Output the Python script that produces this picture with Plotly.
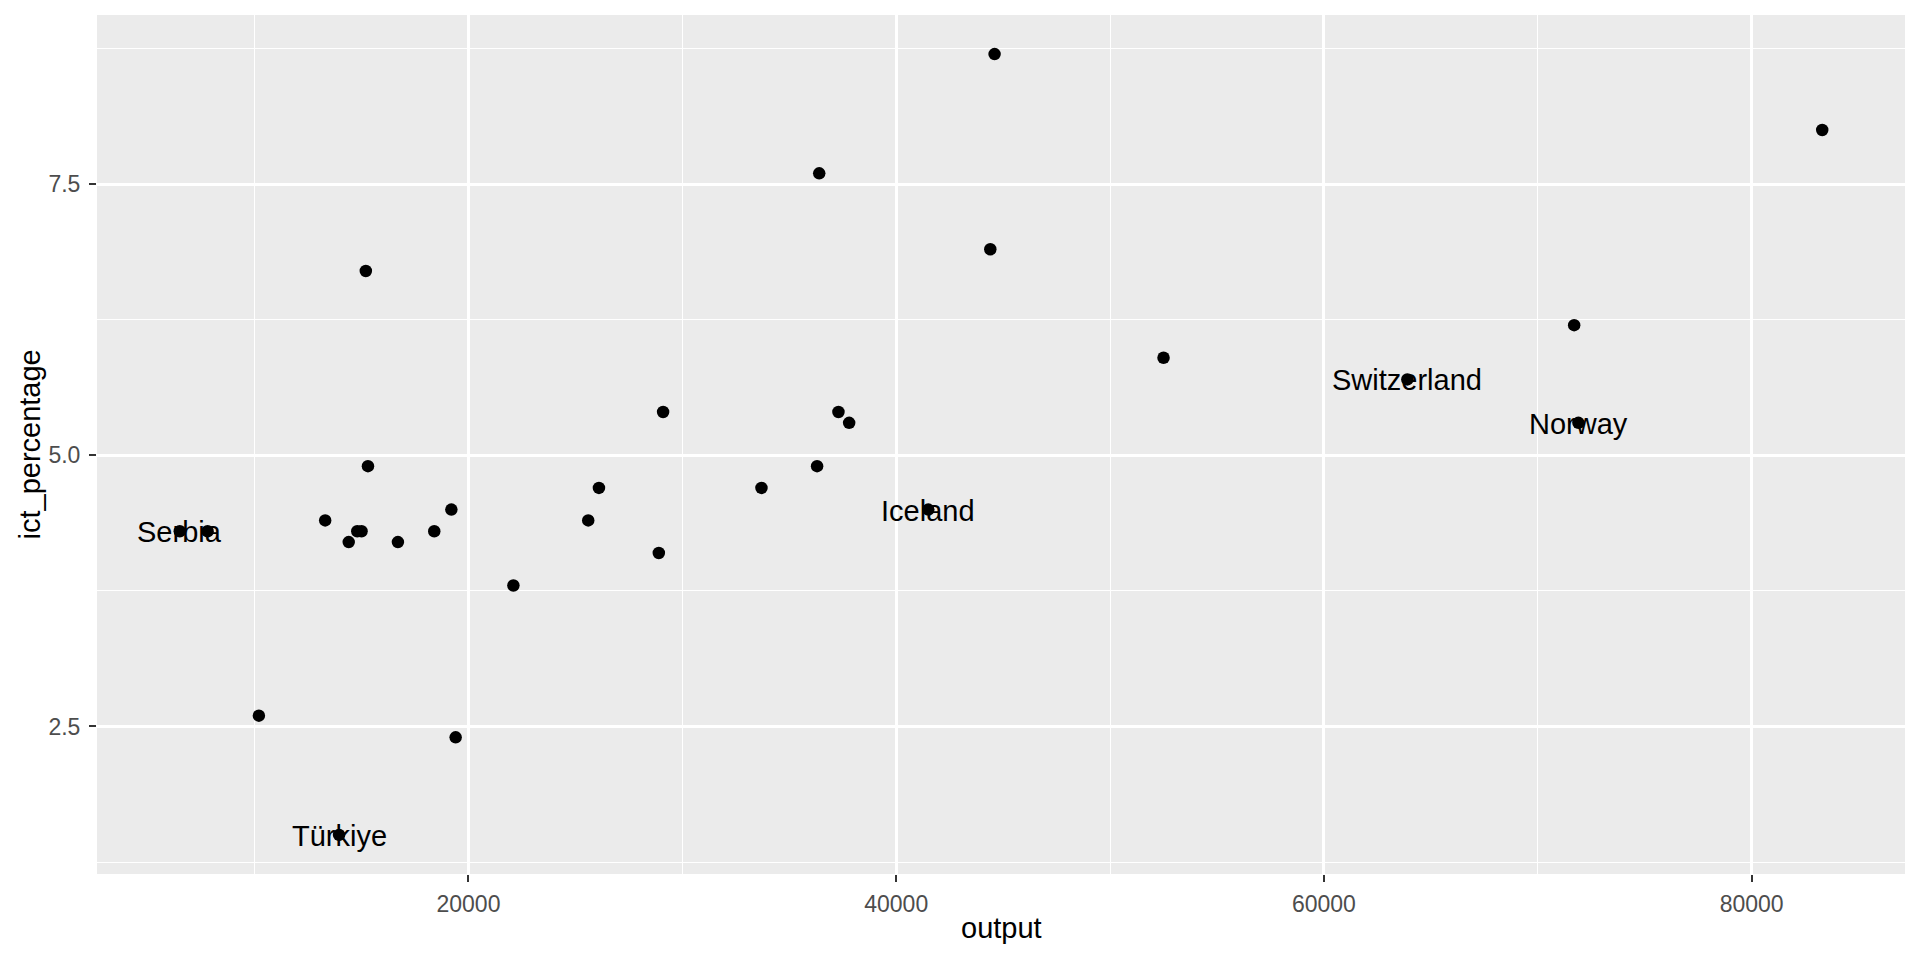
import plotly.graph_objects as go

# Data
output = [6500, 7800, 10200, 13300, 13950, 14400, 14800, 15000, 15200, 15300,
          16700, 18400, 19200, 19400, 22100, 25600, 26100, 28900, 29100, 33700,
          36300, 36400, 37300, 37800, 41500, 44400, 44600, 52500, 63900, 71700,
          71900, 83300]
ict_percentage = [4.3, 4.3, 2.6, 4.4, 1.5, 4.2, 4.3, 4.3, 6.7, 4.9,
                  4.2, 4.3, 4.5, 2.4, 3.8, 4.4, 4.7, 4.1, 5.4, 4.7,
                  4.9, 7.6, 5.4, 5.3, 4.5, 6.9, 8.7, 5.9, 5.7, 6.2,
                  5.3, 8.0]
labels = ["Serbia", "", "", "", "Türkiye", "", "", "", "", "",
          "", "", "", "", "", "", "", "", "", "",
          "", "", "", "", "Iceland", "", "", "", "Switzerland", "",
          "Norway", ""]

x_ticks = [20000, 40000, 60000, 80000]
x_tick_text = ["20000", "40000", "60000", "80000"]
y_ticks = [2.5, 5.0, 7.5]
y_tick_text = ["2.5", "5.0", "7.5"]

FONT = "Liberation Sans, Arial, Helvetica, sans-serif"

fig = go.Figure()
fig.add_trace(go.Scatter(
    x=output, y=ict_percentage, mode="markers",
    marker=dict(color="black", size=12.5, line=dict(width=0)),
    showlegend=False, hoverinfo="x+y"))

# country labels centred on their points (data coordinates)
label_annotations = [
    dict(x=x, y=y, xref="x", yref="y", text=l, showarrow=False,
         xanchor="center", yanchor="middle", yshift=-1,
         font=dict(family=FONT, size=29, color="black"))
    for x, y, l in zip(output, ict_percentage, labels) if l
]

axis_common = dict(
    showline=False, zeroline=False,
    showgrid=True, gridcolor="white", gridwidth=2.6,
    ticks="outside", ticklen=7, tickwidth=2.2, tickcolor="#333333",
    tickfont=dict(family=FONT, size=23, color="#4D4D4D"),
)

fig.update_xaxes(
    range=[2630, 87170], tickvals=x_ticks, ticktext=x_tick_text,
    minor=dict(tickvals=[10000, 30000, 50000, 70000], showgrid=True,
               gridcolor="white", gridwidth=1.3, ticks=""),
    ticklabelstandoff=2,
    **axis_common)
fig.update_yaxes(
    range=[1.14, 9.06], tickvals=y_ticks, ticktext=y_tick_text,
    minor=dict(tickvals=[1.25, 3.75, 6.25, 8.75], showgrid=True,
               gridcolor="white", gridwidth=1.3, ticks=""),
    ticklabelstandoff=4,
    **axis_common)

# The page places the figure 8 px in from the top-left corner,
# so the figure is sized to fit inside the 1920x960 window.
fig.update_layout(
    width=1904, height=944,
    margin=dict(l=89, r=7, t=7, b=78, autoexpand=False),
    paper_bgcolor="white", plot_bgcolor="#EBEBEB",
    font=dict(family=FONT),
    annotations=label_annotations + [
        dict(text="output", xref="paper", yref="paper", x=0.5, y=0,
             xanchor="center", yanchor="middle", yshift=-54, showarrow=False,
             font=dict(family=FONT, size=29, color="black")),
        dict(text="ict_percentage", xref="paper", yref="paper", x=0, y=0.5,
             xanchor="center", yanchor="middle", xshift=-68, textangle=-90,
             showarrow=False, font=dict(family=FONT, size=29, color="black")),
    ],
)

fig.write_html("out.html")
